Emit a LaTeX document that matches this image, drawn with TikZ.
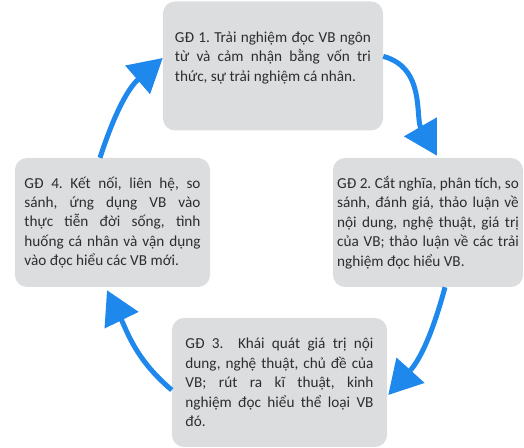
\documentclass[tikz,border=0pt]{standalone}
\usepackage{fontspec}
\setmainfont{Carlito}
\usetikzlibrary{arrows.meta}
\definecolor{boxgray}{RGB}{220,221,223}
\definecolor{txtgray}{RGB}{45,45,47}
\definecolor{flowblue}{RGB}{30,136,236}
\frenchspacing
\begin{document}
\begin{tikzpicture}[x=0.03cm,y=0.03cm,
    box/.style={fill=boxgray,rounded corners=0.36cm,align=justify,text=txtgray,font=\fontsize{13}{16.6}\selectfont,minimum height=3.87cm,inner xsep=0pt},
    arr/.style={-{Triangle[length=1cm,width=1.1cm]},line width=0.15cm,draw=flowblue}
]
\useasboundingbox (0,0) rectangle (524,448);
\node[box,text width=5.88cm,minimum width=6.6cm] (gd1) at (273,382) {GĐ 1. Trải nghiệm đọc VB ngôn\linebreak từ và cảm nhận bằng vốn tri\linebreak thức, sự trải nghiệm cá nhân.\\\mbox{}};
\node[box,text width=5.45cm,minimum width=5.7cm] (gd2) at (428,225.5) {GĐ 2. Cắt nghĩa, phân tích, so\linebreak sánh, đánh giá, thảo luận về\linebreak nội dung, nghệ thuật, giá trị\linebreak của VB; thảo luận về các trải\linebreak nghiệm đọc hiểu VB.};
\node[box,text width=5.64cm,minimum width=6.45cm] (gd3) at (279.5,65.5) {GĐ 3.\ \ Khái quát giá trị nội\linebreak dung, nghệ thuật, chủ đề của\linebreak VB; rút ra kĩ thuật, kinh\linebreak nghiệm đọc hiểu thể loại VB\linebreak đó.};
\node[box,text width=5.28cm,minimum width=5.85cm] (gd4) at (112.5,225.5) {GĐ 4. Kết nối, liên hệ, so\linebreak sánh, ứng dụng VB vào\linebreak thực tiễn đời sống, tình\linebreak huống cá nhân và vận dụng\linebreak vào đọc hiểu các VB mới.};
\draw[arr] (gd1.5) to[out=-15,in=120] ([xshift=0.27cm,yshift=0.06cm]gd2.north);
\draw[arr] ([xshift=0.51cm]gd2.south) to[out=-105,in=48] ([xshift=0.03cm,yshift=-0.375cm]gd3.east);
\draw[arr] ([yshift=-0.225cm]gd3.west) to[out=140,in=-64] ([xshift=-0.165cm,yshift=-0.09cm]gd4.south);
\draw[arr] ([xshift=-0.375cm]gd4.north) to[out=72,in=-139] ([yshift=0.24cm]gd1.west);
\end{tikzpicture}
\end{document}
